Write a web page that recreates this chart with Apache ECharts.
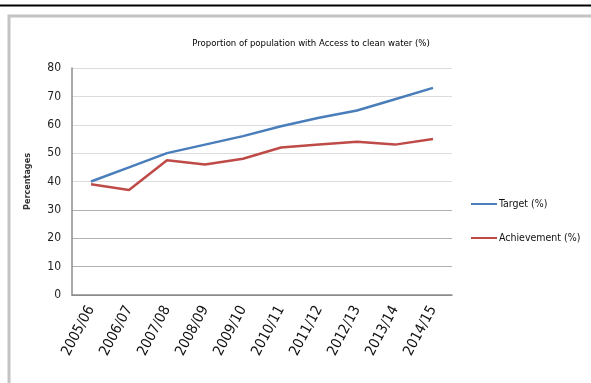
<!DOCTYPE html>
<html>
<head>
<meta charset="utf-8">
<script src="https://cdn.jsdelivr.net/npm/echarts@6/dist/echarts.min.js"></script>
<style>
  html, body { margin: 0; padding: 0; background: #fff; }
  #chart { width: 591px; height: 383px; }
</style>
</head>
<body>
<div id="chart"></div>
<script>
// Fiscal years on the category axis
const years = ['2005/06', '2006/07', '2007/08', '2008/09', '2009/10',
               '2010/11', '2011/12', '2012/13', '2013/14', '2014/15'];
// Planned share of population with clean water access (%)
const target = [40, 45, 50, 53, 56, 59.5, 62.5, 65, 69, 73];
// Actual share reached (%)
const achievement = [39, 37, 47.5, 46, 48, 52, 53, 54, 53, 55];
// Value-axis ticks
const yTicks = [0, 10, 20, 30, 40, 50, 60, 70, 80];

const narrow = "'Liberation Sans Narrow', 'DejaVu Sans Condensed', 'Liberation Sans', sans-serif";

const chart = echarts.init(document.getElementById('chart'));
chart.setOption({
  backgroundColor: '#fff',
  animation: false,
  title: {
    text: 'Proportion of population with Access to clean water (%)',
    left: 306,
    top: 34,
    textAlign: 'center',
    textStyle: { fontFamily: narrow, fontSize: 9.5, fontWeight: 'normal', color: '#000' }
  },
  graphic: [
    { type: 'line', shape: { x1: 0, y1: 5.5, x2: 591, y2: 5.5 },
      style: { stroke: '#000', lineWidth: 2 } },
    { type: 'rect', shape: { x: 9, y: 16, width: 620, height: 420 },
      style: { fill: 'none', stroke: '#c4c4c4', lineWidth: 3 } }
  ],
  legend: {
    orient: 'vertical',
    left: 471,
    top: 197,
    padding: 0,
    itemWidth: 26,
    itemHeight: 2,
    itemGap: 20,
    icon: 'rect',
    textStyle: { fontFamily: narrow, fontSize: 10.5, color: '#111', padding: [0, 0, 0, -3], lineHeight: 14 },
    data: ['Target (%)', 'Achievement (%)']
  },
  grid: { left: 72, right: 139, top: 68, bottom: 88 },
  xAxis: {
    type: 'category',
    data: years,
    boundaryGap: true,
    axisLine: { lineStyle: { color: '#8c8c8c', width: 1.5 } },
    axisTick: { show: false },
    axisLabel: {
      rotate: 62,
      margin: 12,
      interval: 0,
      fontFamily: narrow,
      fontSize: 14.5,
      fontWeight: 'normal',
      color: '#111'
    }
  },
  yAxis: {
    type: 'value',
    min: yTicks[0],
    max: yTicks[yTicks.length - 1],
    interval: 10,
    name: 'Percentages',
    nameLocation: 'middle',
    nameGap: 40,
    nameRotate: 90,
    nameTextStyle: { fontFamily: narrow, fontSize: 9, fontWeight: 'bold', color: '#333' },
    axisLine: { show: true, lineStyle: { color: '#8c8c8c', width: 1.5 } },
    axisTick: { show: false },
    axisLabel: { margin: 11, fontFamily: narrow, fontSize: 12, fontWeight: 'normal', color: '#222' },
    splitLine: {
      lineStyle: {
        color: ['#888', '#b0b0b0', '#b0b0b0', '#b0b0b0', '#dcdcdc', '#dcdcdc', '#dcdcdc', '#dcdcdc', '#dcdcdc'],
        width: 1.2
      }
    }
  },
  series: [
    {
      name: 'Target (%)',
      type: 'line',
      data: target,
      symbol: 'none',
      itemStyle: { color: '#4a7ebb' },
      lineStyle: { color: '#4a7ebb', width: 2.5 }
    },
    {
      name: 'Achievement (%)',
      type: 'line',
      data: achievement,
      symbol: 'none',
      itemStyle: { color: '#be4b48' },
      lineStyle: { color: '#be4b48', width: 2.5 }
    }
  ]
});
</script>
</body>
</html>
